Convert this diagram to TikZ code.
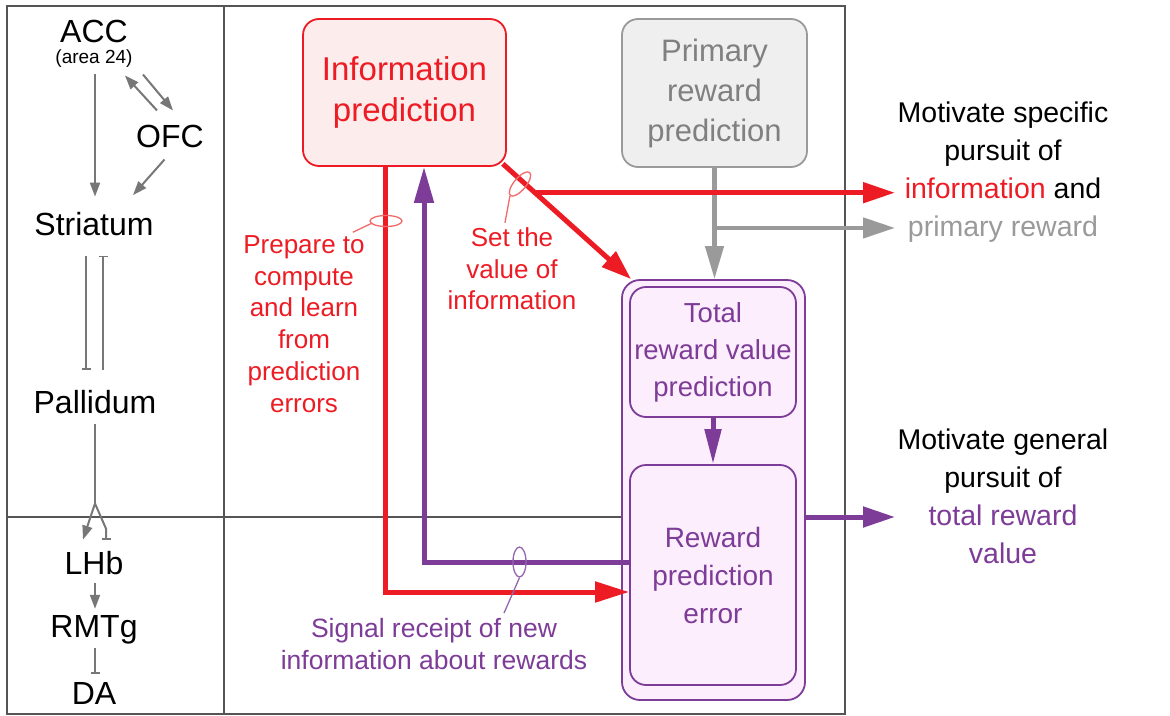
\documentclass[tikz,border=0pt]{standalone}
\usepackage{fontspec}
\setmainfont{Liberation Sans}
\usetikzlibrary{arrows.meta,shapes.geometric}

\definecolor{infored}{HTML}{ED1C24}
\definecolor{rwpurple}{HTML}{7D3C98}
\definecolor{primgray}{HTML}{9A9A9A}
\definecolor{primtext}{HTML}{808080}
\definecolor{leftgray}{HTML}{777777}
\definecolor{infofill}{HTML}{FDECEC}
\definecolor{primfill}{HTML}{EFEFEF}
\definecolor{purplefill}{HTML}{FCEEFC}
\definecolor{framegray}{HTML}{555555}
\definecolor{markred}{HTML}{F26A6A}
\definecolor{markpurple}{HTML}{9466B2}

\newcommand\fsz[2]{\fontsize{#1}{#2}\selectfont}

\begin{document}
\begin{tikzpicture}[x=1pt,y=-1pt,
  region/.style={framegray,line width=1.3pt},
  brainlbl/.style={inner sep=0pt,anchor=base,font=\fsz{32}{38}},
  leftline/.style={leftgray,line width=2pt},
  lefttip/.style={leftline,-{Triangle[length=14pt,width=10pt]}},
  leftbar/.style={leftline,-{Bar[width=9pt,line width=1.8pt]}},
  stagebox/.style={rounded corners=16pt,line width=1.8pt,align=center,inner sep=0pt},
  redline/.style={infored,line width=5pt},
  grayline/.style={primgray,line width=4.5pt},
  purpline/.style={rwpurple,line width=5pt},
  bigtip/.style={-{Triangle[length=32pt,width=20pt]}},
  marker/.style={ellipse,draw,line width=1.3pt,inner sep=0pt},
  note/.style={align=center,inner sep=0pt}
]

% canvas
\fill[white] (0,0) rectangle (1170,715);
\useasboundingbox (0,0) rectangle (1170,715);

% frame and dividers
\draw[region] (7,6) rectangle (845,714);
\draw[region] (224,6) -- (224,714);
\draw[region] (7,517) -- (845,517);

% ---------- left column: brain circuit ----------
\node[brainlbl] (acc)  at (94,42)  {ACC};
\node[brainlbl,font=\fsz{19}{22}] (area) at (94,63) {(area 24)};
\node[brainlbl] (ofc)  at (170,147) {OFC};
\node[brainlbl] (str)  at (94,235) {Striatum};
\node[brainlbl] (pal)  at (95,413) {Pallidum};
\node[brainlbl] (lhb)  at (94,574) {LHb};
\node[brainlbl] (rmtg) at (94,637) {RMTg};
\node[brainlbl] (da)   at (94,704) {DA};

\draw[lefttip,shorten <=7pt,shorten >=15pt] ([xshift=1pt]area.south) -- ([xshift=1pt]area.south |- str.north);
\draw[lefttip] ([xshift=-13pt,yshift=14pt]ofc.north) -- ([xshift=-3pt,yshift=-33pt]acc.south east);
\draw[lefttip] ([xshift=15pt,yshift=-32pt]acc.south east) -- ([xshift=3pt,yshift=14pt]ofc.north);
\draw[lefttip] ([xshift=-5.5pt,yshift=-12pt]ofc.south) -- ([xshift=39pt,yshift=16.5pt]str.north);

\draw[leftbar,shorten <=20pt,shorten >=20pt] ([xshift=-8pt]str.south) -- ([xshift=-8pt]str.south |- pal.north);
\draw[leftbar,shorten <=20pt,shorten >=20pt] ([xshift=9pt]str.south |- pal.north) -- ([xshift=9pt]str.south);

\draw[leftline] ([yshift=-10pt]pal.south) -- ([yshift=-90pt]pal.south) coordinate (pfork);
\draw[lefttip] (pfork) -- ([xshift=-11pt,yshift=11pt]lhb.north);
\draw[leftbar] (pfork) -- ([xshift=12pt,yshift=22pt]lhb.north) -- ([xshift=12pt,yshift=11pt]lhb.north);

\draw[lefttip,shorten <=8pt,shorten >=6pt] ([xshift=1pt]lhb.south) -- ([xshift=1pt]lhb.south |- rmtg.north);
\draw[leftbar,shorten <=4pt,shorten >=8pt] ([xshift=1pt]rmtg.south) -- ([xshift=1pt]rmtg.south |- da.north);

% ---------- computation stages ----------
\node[stagebox,draw=infored,fill=infofill,text=infored,font=\fsz{33}{41},
      minimum width=203pt,minimum height=147pt] (info) at (404.5,92.5) {Information\\prediction};
\node[stagebox,draw=primgray,fill=primfill,text=primtext,font=\fsz{31}{40},
      minimum width=185pt,minimum height=148pt] (prim) at (714.5,93) {Primary\\reward\\prediction};
\node[stagebox,rounded corners=18pt,draw=rwpurple,fill=purplefill,
      minimum width=183pt,minimum height=420pt] (outer) at (713.5,490) {};
\node[stagebox,draw=rwpurple,fill=purplefill,text=rwpurple,font=\fsz{27.5}{37},
      minimum width=166pt,minimum height=130pt] (total) at (713,352) {Total\\reward value\\prediction};
\node[stagebox,draw=rwpurple,fill=purplefill,text=rwpurple,font=\fsz{28}{38},
      minimum width=166pt,minimum height=220pt] (rpe) at (713,575) {Reward\\prediction\\error};

% ---------- outcome texts ----------
\node[note,font=\fsz{28.5}{38}] (spec) at (1003,172.5)
  {Motivate specific\\pursuit of\\\textcolor{infored}{information} and\\\textcolor{primgray}{primary reward}};
\node[note,font=\fsz{28.5}{38}] (gen) at (1003,496.5)
  {Motivate general\\pursuit of\\\textcolor{rwpurple}{total reward}\\\textcolor{rwpurple}{value}};
\coordinate (specend) at (895,193);
\coordinate (primend) at (895,228);
\coordinate (genend)  at (895,517);

% ---------- connectors ----------
\draw[grayline,-{Triangle[length=33pt,width=18pt]}] (prim.south) -- coordinate[pos=0.54] (gfork) (prim.south |- outer.north);
\draw[grayline,bigtip] (gfork) -- (gfork -| primend);

\draw[redline,-{Triangle[length=30pt,width=20pt]}] ([xshift=-4pt,yshift=3pt]info.south east)
  -- coordinate[pos=0.25] (rfork) ([xshift=10pt]outer.north west);
\draw[redline,bigtip] (rfork) -- (rfork -| specend);

\draw[redline,-{Triangle[length=34pt,width=20pt]}] ([xshift=-19.5pt]info.south) |- ([yshift=-17pt]rpe.west);
\draw[purpline,-{Triangle[length=36pt,width=19pt]}] ([yshift=13pt]rpe.west) -| ([xshift=19.5pt]info.south);

\draw[purpline,-{Triangle[length=35pt,width=16pt]}] (total.south) -- (rpe.north);
\draw[purpline,bigtip] (outer.east |- genend) -- (genend);

% ---------- annotations ----------
\node[note,font=\fsz{26}{31.8},text=infored] (prep) at (304,324)
  {Prepare to\\compute\\and learn\\from\\prediction\\errors};
\node[note,font=\fsz{26}{31.5},text=infored] (setv) at (512,269)
  {Set the\\value of\\information};
\node[note,font=\fsz{26.5}{32},text=rwpurple] (signal) at (434,644.5)
  {Signal receipt of new\\information about rewards};

\node[marker,draw=markred,minimum width=32pt,minimum height=11pt] (mprep) at (386,221) {};
\draw[markred,line width=1.3pt] ([xshift=-12pt,yshift=3pt]prep.north east) -- ([xshift=3pt,yshift=-2pt]mprep.west);
\node[marker,draw=markred,minimum width=30pt,minimum height=12pt,rotate=50] (mset) at (520,184) {};
\draw[markred,line width=1.3pt] ([xshift=-7pt,yshift=5pt]setv.north) -- (mset.west);
\node[marker,draw=markpurple,minimum width=13pt,minimum height=30pt] (msig) at (519.5,562) {};
\draw[markpurple,line width=1.3pt] ([xshift=70pt,yshift=5.5pt]signal.north) -- (msig.south);

\end{tikzpicture}
\end{document}
